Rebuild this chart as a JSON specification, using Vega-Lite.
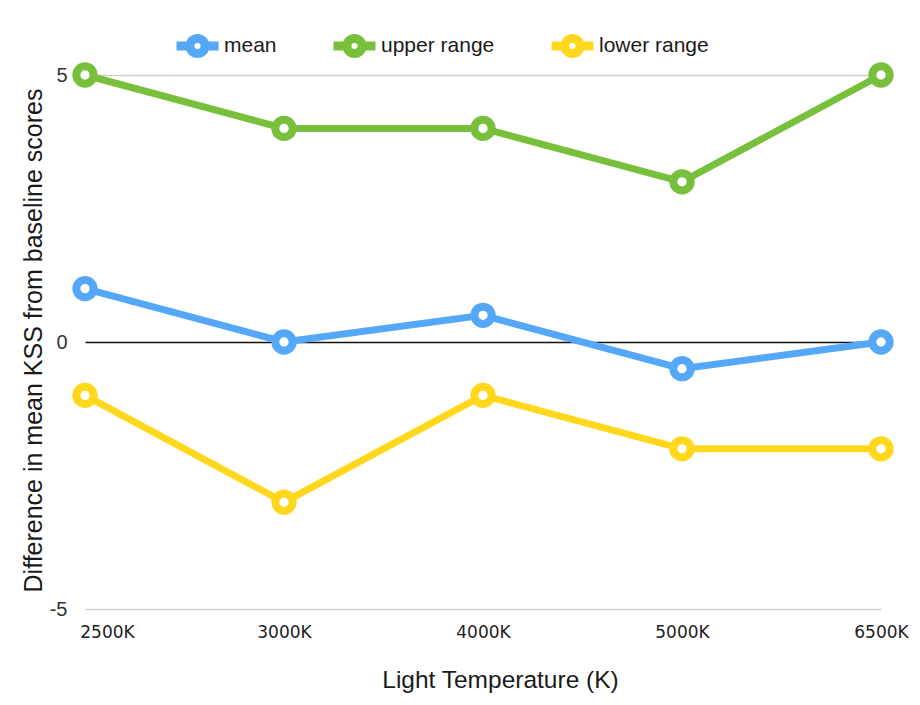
{
  "$schema": "https://vega.github.io/schema/vega-lite/v6.json",
  "width": 796,
  "height": 534,
  "autosize": {"type": "none"},
  "padding": {"left": 85, "top": 75, "right": 39, "bottom": 96},
  "background": "white",
  "config": {"view": {"stroke": null}},
  "data": {
    "values": [
      {"series": "mean", "temp": "2500K", "value": 1},
      {"series": "mean", "temp": "3000K", "value": 0},
      {"series": "mean", "temp": "4000K", "value": 0.5},
      {"series": "mean", "temp": "5000K", "value": -0.5},
      {"series": "mean", "temp": "6500K", "value": 0},
      {"series": "upper range", "temp": "2500K", "value": 5},
      {"series": "upper range", "temp": "3000K", "value": 4},
      {"series": "upper range", "temp": "4000K", "value": 4},
      {"series": "upper range", "temp": "5000K", "value": 3},
      {"series": "upper range", "temp": "6500K", "value": 5},
      {"series": "lower range", "temp": "2500K", "value": -1},
      {"series": "lower range", "temp": "3000K", "value": -3},
      {"series": "lower range", "temp": "4000K", "value": -1},
      {"series": "lower range", "temp": "5000K", "value": -2},
      {"series": "lower range", "temp": "6500K", "value": -2}
    ]
  },
  "encoding": {
    "x": {
      "field": "temp",
      "type": "ordinal",
      "sort": ["2500K", "3000K", "4000K", "5000K", "6500K"],
      "scale": {"type": "point", "padding": 0},
      "axis": {
        "title": "Light Temperature (K)",
        "labelAngle": 0,
        "labelFont": "DejaVu Sans",
        "labelFontSize": 17,
        "labelColor": "#222",
        "labelPadding": 15,
        "labelBaseline": "top",
        "labelOffset": {"condition": {"test": "datum.value === '2500K'", "value": 22}, "value": 0},
        "labelBound": false,
        "labelOverlap": false,
        "ticks": false,
        "domain": false,
        "grid": false,
        "titleFont": "Liberation Sans",
        "titleFontSize": 24.5,
        "titleFontWeight": "normal",
        "titleColor": "#1a1a1a",
        "titleX": 415,
        "titleY": 71,
        "titleBaseline": "middle",
        "titleAlign": "center"
      }
    },
    "y": {
      "field": "value",
      "type": "quantitative",
      "scale": {"domain": [-5, 5], "nice": false, "zero": false},
      "axis": {
        "title": "Difference in mean KSS from baseline scores",
        "values": [-5, 0, 5],
        "labelExpr": "'' + datum.value",
        "ticks": false,
        "domain": false,
        "grid": true,
        "gridColor": {"condition": {"test": "datum.value === 0", "value": "#111111"}, "value": "#cfcfcf"},
        "gridWidth": 1.5,
        "labelFont": "Liberation Sans",
        "labelFontSize": 20,
        "labelColor": "#333",
        "labelPadding": 18,
        "titleFont": "Liberation Sans",
        "titleFontSize": 25,
        "titleFontWeight": "normal",
        "titleColor": "#1a1a1a",
        "titleX": -52,
        "titleY": 265,
        "titleAngle": -90,
        "titleBaseline": "middle",
        "titleAlign": "center"
      }
    },
    "color": {
      "field": "series",
      "type": "nominal",
      "scale": {
        "domain": ["mean", "upper range", "lower range"],
        "range": ["#55A8F8", "#78BF3C", "#FFD81E"]
      },
      "legend": {
        "title": null,
        "orient": "none",
        "direction": "horizontal",
        "legendX": 87,
        "legendY": -55,
        "padding": 0,
        "symbolType": "M-1,0L-0.36,0M0.36,0L1,0M0.36,0A0.36,0.36 0 1 1 -0.36,0A0.36,0.36 0 1 1 0.36,0",
        "symbolSize": 1764,
        "symbolStrokeWidth": 9,
        "symbolFillColor": "white",
        "labelFont": "Liberation Sans",
        "labelFontSize": 21,
        "labelColor": "#1a1a1a",
        "labelOffset": 1,
        "columnPadding": 38
      }
    }
  },
  "layer": [
    {"mark": {"type": "line", "strokeWidth": 7}},
    {"mark": {"type": "point", "filled": false, "fill": "white", "strokeWidth": 8, "size": 300, "opacity": 1}}
  ]
}
